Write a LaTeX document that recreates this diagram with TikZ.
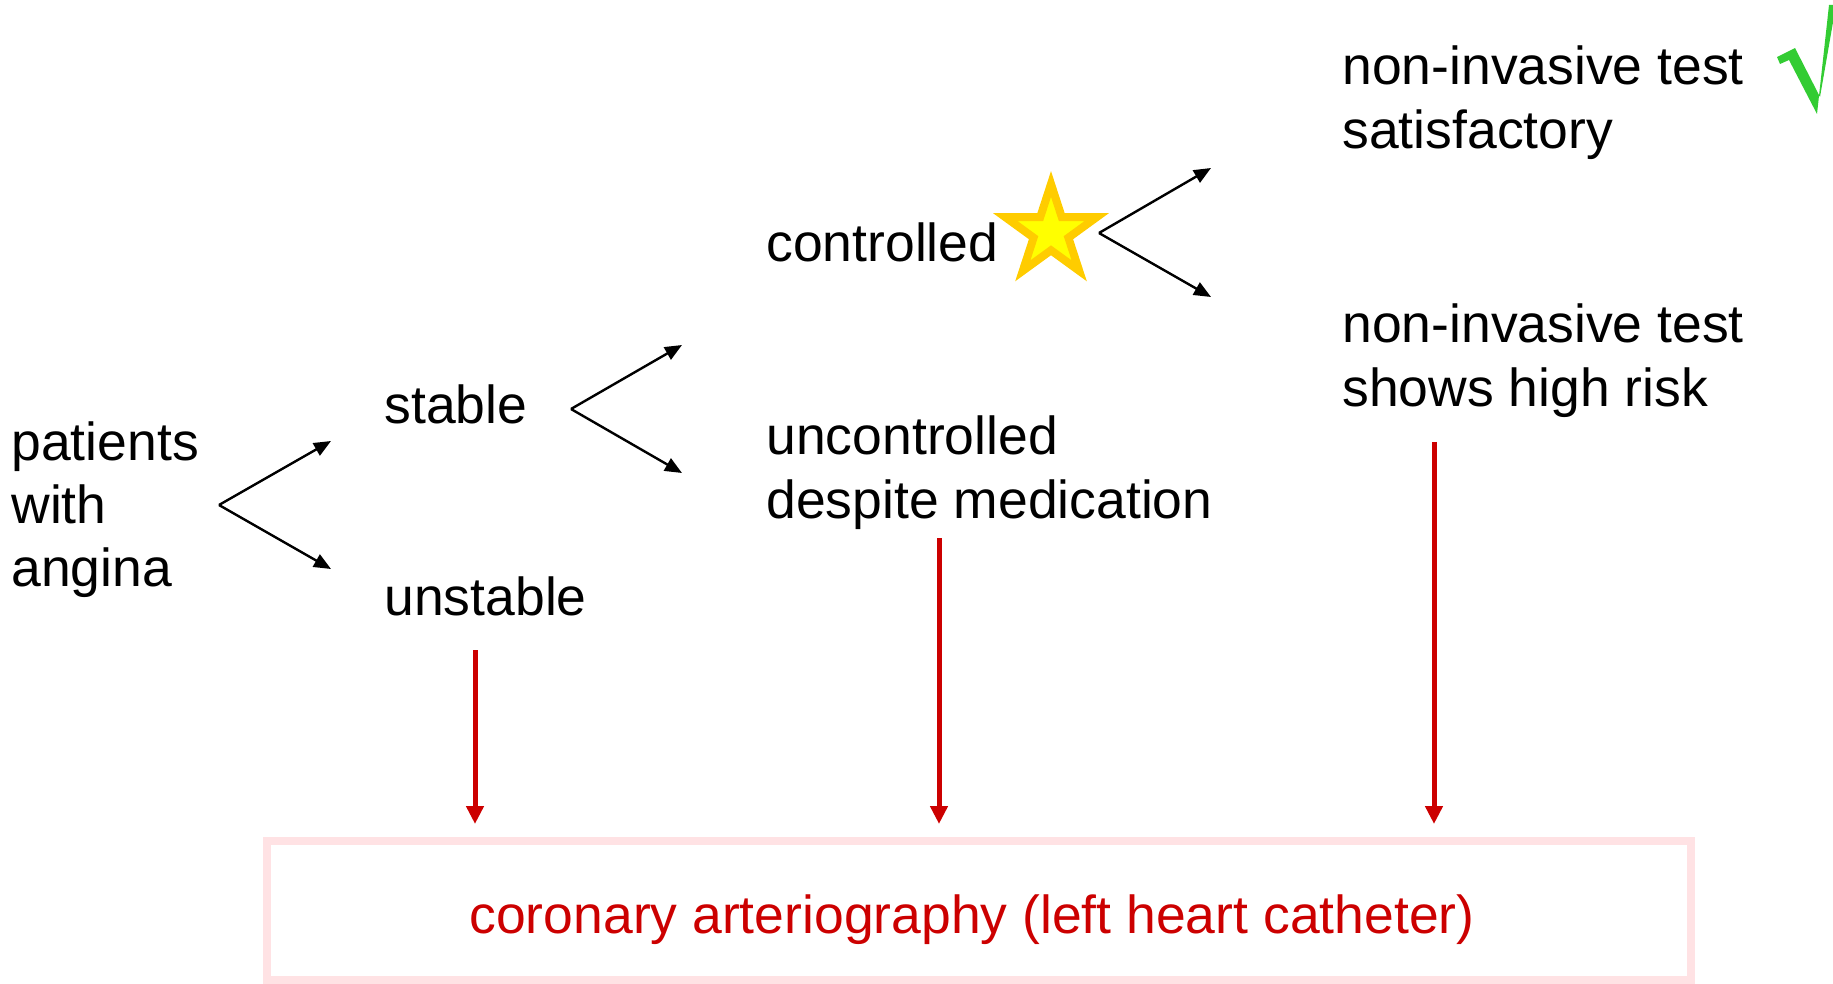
\documentclass[tikz,border=0pt]{standalone}
\usepackage{fontspec}
\setmainfont{Liberation Sans}
\usetikzlibrary{arrows.meta}
\definecolor{darkred}{RGB}{204,0,0}
\definecolor{boxpink}{RGB}{255,226,228}
\definecolor{starorange}{RGB}{255,204,0}
\definecolor{staryellow}{RGB}{255,255,0}
\definecolor{checkgreen}{RGB}{51,204,51}
\newcommand{\mylines}[1]{\begin{tabular}[t]{@{}l@{}}#1\end{tabular}}
\begin{document}
\begin{tikzpicture}[x=0.5pt,y=-0.5pt,
  lbl/.style={anchor=base west, inner sep=0pt, font=\fontsize{26.75}{31.6}\selectfont},
  fork/.style={line width=1.2pt, -{Triangle[length=8.5pt,width=7pt]}},
  down/.style={draw=darkred, line width=2.5pt, -{Triangle[length=9pt,width=8.5pt]}},
]
\useasboundingbox (0,0) rectangle (1833,984);

% texts
\node[lbl] (pat) at (11,460) {\mylines{patients\\with\\angina}};
\node[lbl] (stab) at (384,423) {stable};
\node[lbl] (unst) at (384,615) {unstable};
\node[lbl] (ctrl) at (766,262) {controlled};
\node[lbl] (unc) at (766,455) {\mylines{uncontrolled\\despite medication}};
\node[lbl] (sat) at (1342,85) {\mylines{non-invasive test\\satisfactory}};
\node[lbl] (risk) at (1342,343) {\mylines{non-invasive test\\shows high risk}};

% bottom box
\node[draw=boxpink, line width=4pt, minimum width=712pt, minimum height=69.5pt, inner sep=0pt] (box) at (979,910.5) {};
\node[lbl, anchor=base, text=darkred] (cor) at (972,933) {coronary arteriography (left heart catheter)};

% forks
\coordinate (v1) at (219,505); \coordinate (t1a) at (331,441); \coordinate (t1b) at (331,569);
\coordinate (v2) at (571,409); \coordinate (t2a) at (682,345); \coordinate (t2b) at (682,473);
\coordinate (v3) at (1099,233); \coordinate (t3a) at (1211,168); \coordinate (t3b) at (1211,297);
\draw[fork] (v1) -- (t1a); \draw[fork] (v1) -- (t1b);
\draw[fork] (v2) -- (t2a); \draw[fork] (v2) -- (t2b);
\draw[fork] (v3) -- (t3a); \draw[fork] (v3) -- (t3b);

% red arrows
\coordinate (r1s) at (475,650); \coordinate (r1e) at (475,824);
\coordinate (r2s) at (939,538); \coordinate (r2e) at (939,824);
\coordinate (r3s) at (1434,442); \coordinate (r3e) at (1434,824);
\draw[down] (r1s) -- (r1e);
\draw[down] (r2s) -- (r2e);
\draw[down] (r3s) -- (r3e);

% star (center 1051,232; R=48)
\draw[draw=starorange, fill=staryellow, line width=4pt, line join=miter]
  (1051,184) -- (1061.8,217.2) -- (1096.6,217.2) -- (1068.4,237.7) -- (1079.2,270.8)
  -- (1051,250.3) -- (1022.8,270.8) -- (1033.6,237.7) -- (1005.4,217.2) -- (1040.2,217.2) -- cycle;

% check mark
\fill[checkgreen] (1777,57) -- (1795,48) -- (1820,97) -- (1836,5) -- (1829,5)
  -- (1817,114) -- (1789,60) -- (1780,64) -- cycle;
\end{tikzpicture}
\end{document}
